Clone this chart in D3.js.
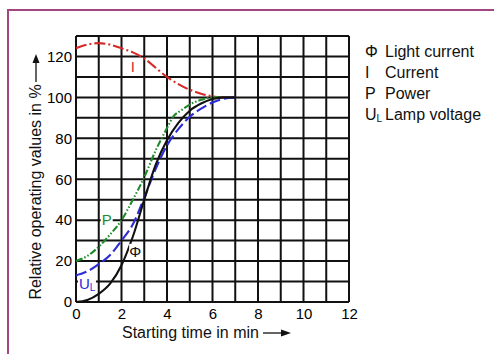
<!DOCTYPE html>
<html>
<head>
<meta charset="utf-8">
<script src="https://cdn.jsdelivr.net/npm/d3@7"></script>
<style>
  body { margin: 0; background: #fff; }
  text { font-family: "Liberation Sans", Arial, sans-serif; }
</style>
</head>
<body>
<div id="chart"></div>
<script>
// values (time in min, value in %)
const phi = [[0,0],[0.5,1],[1,4],[1.5,9],[2,18],[2.5,32],[3,50],[3.5,67],[4,79],[4.5,87.5],[5,93.5],[5.5,97],[6,99.2],[6.5,100],[7,100]];
const current = [[0,124],[0.5,125.8],[1,126.5],[1.5,125.8],[2,124],[2.5,122],[3,119],[3.5,114.5],[4,110],[4.5,106.5],[5,103.7],[5.5,101.8],[6,100.5],[6.5,100],[7,100]];
const power = [[0,20],[0.5,22.5],[1,27],[1.5,33],[2,40],[2.5,50],[3,61],[3.5,74],[4,85],[4.3,91],[4.6,93.5],[5,96.5],[5.5,98.8],[6,100],[6.5,100]];
const voltage = [[0,13],[0.5,15],[1,18.5],[1.5,23],[2,30],[2.5,38],[3,51],[3.5,65],[4,76.5],[4.5,84.5],[5,90.5],[5.5,94.5],[6,97.5],[6.5,99.3],[7,100]];

const xTicks = [0, 2, 4, 6, 8, 10, 12];
const yTicks = [0, 20, 40, 60, 80, 100, 120];
const legendKeys = ["\u03A6", "I", "P", "U"];
const legendNames = ["Light current", "Current", "Power", "Lamp voltage"];

const width = 494, height = 354;
const svg = d3.select("#chart").append("svg")
  .attr("width", width)
  .attr("height", height);

// frame
svg.append("rect")
  .attr("x", 8).attr("y", 10)
  .attr("width", 500).attr("height", 360)
  .attr("fill", "none")
  .attr("stroke", "#a3457f")
  .attr("stroke-width", 2);

const x = d3.scaleLinear().domain([0, 12]).range([76, 349]);
const y = d3.scaleLinear().domain([0, 130]).range([302, 36]);

// grid
const grid = svg.append("g").attr("stroke", "#111").attr("stroke-width", 2);
grid.selectAll(".gx")
  .data(d3.range(0, 13))
  .join("line")
  .attr("x1", d => x(d)).attr("x2", d => x(d))
  .attr("y1", y(0)).attr("y2", y(130));
grid.selectAll(".gy")
  .data(d3.range(0, 131, 10))
  .join("line")
  .attr("x1", x(0)).attr("x2", x(12))
  .attr("y1", d => y(d)).attr("y2", d => y(d));

// axes (labels only)
const xAxis = svg.append("g")
  .attr("transform", `translate(0,${y(0) + 2})`)
  .call(d3.axisBottom(x).tickValues(xTicks).tickSize(0).tickPadding(4));
const yAxis = svg.append("g")
  .attr("transform", `translate(${x(0) - 3},0)`)
  .call(d3.axisLeft(y).tickValues(yTicks).tickSize(0).tickPadding(1));
[xAxis, yAxis].forEach(a => {
  a.select(".domain").remove();
  a.selectAll("text")
    .attr("font-size", 15)
    .attr("fill", "#000")
    .style("font-family", "'Liberation Sans', Arial, sans-serif");
});

// curves
const line = d3.line()
  .x(d => x(d[0]))
  .y(d => y(d[1]))
  .curve(d3.curveMonotoneX);

const series = [
  { data: current, color: "#d42a2a", dash: "11,3,2,3" },
  { data: power, color: "#1f8a2a", dash: "7,2,1.5,2,1.5,2" },
  { data: voltage, color: "#2b2bd8", dash: "11,4" },
  { data: phi, color: "#111", dash: null }
];
svg.append("g")
  .selectAll("path")
  .data(series)
  .join("path")
  .attr("d", d => line(d.data))
  .attr("fill", "none")
  .attr("stroke", d => d.color)
  .attr("stroke-width", 2.1)
  .attr("stroke-dasharray", d => d.dash);

// curve labels
function curveLabel(tx, ty, txt, color, bg, sub) {
  const g = svg.append("g");
  if (bg) {
    g.append("rect")
      .attr("x", x(tx) - 6).attr("y", y(ty) - 8)
      .attr("width", sub ? 18 : 12).attr("height", 16)
      .attr("fill", "#fff");
  }
  const t = g.append("text")
    .attr("x", x(tx)).attr("y", y(ty) + 5)
    .attr("text-anchor", sub ? "start" : "middle")
    .attr("font-size", 15)
    .attr("fill", color)
    .text(txt);
  if (sub) {
    t.attr("x", x(tx) - 5);
    t.append("tspan").attr("font-size", 10).attr("dy", 2).text(sub);
  }
}
curveLabel(2.5, 115, "I", "#d42a2a", false);
curveLabel(1.35, 40, "P", "#1f8a2a", true);
curveLabel(2.6, 24.5, "\u03A6", "#111", true);
curveLabel(0.35, 9, "U", "#2b2bd8", true, "L");

// axis titles with arrows
svg.append("text")
  .attr("transform", `translate(41,192) rotate(-90)`)
  .attr("text-anchor", "middle")
  .attr("font-size", 16)
  .attr("fill", "#111")
  .text("Relative operating values in %");
svg.append("line")
  .attr("x1", 36).attr("x2", 36)
  .attr("y1", 82).attr("y2", 60)
  .attr("stroke", "#111").attr("stroke-width", 1.3);
svg.append("path")
  .attr("d", "M32.5,63 L36,54 L39.5,63 Z")
  .attr("fill", "#111");

svg.append("text")
  .attr("x", 122).attr("y", 338)
  .attr("font-size", 16)
  .attr("fill", "#111")
  .text("Starting time in min");
svg.append("line")
  .attr("x1", 263).attr("x2", 284)
  .attr("y1", 333).attr("y2", 333)
  .attr("stroke", "#111").attr("stroke-width", 1.3);
svg.append("path")
  .attr("d", "M281,329.5 L291,333 L281,336.5 Z")
  .attr("fill", "#111");

// legend
const legend = svg.append("g").attr("font-size", 16).attr("fill", "#111");
const rows = legend.selectAll("g")
  .data(legendNames)
  .join("g")
  .attr("transform", (d, i) => `translate(365,${57 + i * 21})`);
rows.append("text")
  .attr("x", 0)
  .text((d, i) => legendKeys[i])
  .append("tspan")
  .attr("font-size", 10)
  .attr("dy", 2)
  .text((d, i) => i === 3 ? "L" : "");
rows.append("text")
  .attr("x", 20)
  .text(d => d);
</script>
</body>
</html>
